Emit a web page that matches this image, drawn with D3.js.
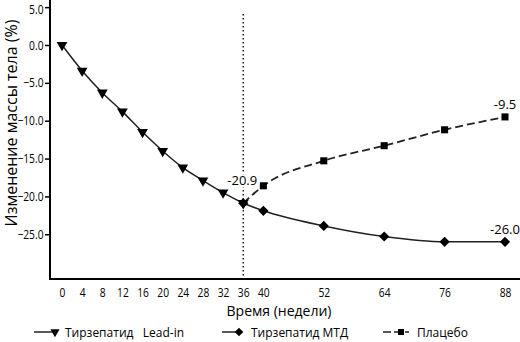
<!DOCTYPE html>
<html><head><meta charset="utf-8">
<script src="https://cdn.jsdelivr.net/npm/d3@7"></script>
<style>body{margin:0;background:#fff}svg{display:block}text{font-family:"Open Sans",sans-serif;fill:#000}</style>
</head><body><svg id="c" width="520" height="342"></svg>
<script>
const leadWeeks=[0,4,8,12,16,20,24,28,32,36];
const leadValues=[0,-3.4,-6.3,-8.8,-11.5,-14.0,-16.2,-17.9,-19.5,-20.9];
const mtdWeeks=[36,40,52,64,76,88];
const mtdValues=[-20.9,-21.9,-23.9,-25.3,-26.0,-26.0];
const placeboWeeks=[36,40,52,64,76,88];
const placeboValues=[-20.9,-18.6,-15.3,-13.3,-11.2,-9.5];
const xTicks=[0,4,8,12,16,20,24,28,32,36,40,52,64,76,88];
const yTicks=[5,0,-5,-10,-15,-20,-25];
const labels=[{w:36,v:-20.9,t:"-20.9"},{w:88,v:-9.5,t:"-9.5"},{w:88,v:-26.0,t:"-26.0"}];

const svg=d3.select("#c");
const x=d3.scaleLinear().domain([0,88]).range([62,505]);
const y=d3.scaleLinear().domain([0,-20]).range([45,196.4]);
const sx=0.82;

// axes
const yAx=svg.append("g").attr("transform","translate(50,0)")
 .call(d3.axisLeft(y).tickValues(yTicks).tickFormat(d3.format(".1f")).tickSize(5).tickPadding(1));
yAx.select(".domain").attr("d","M0,0V279.5").attr("stroke-width",2);
yAx.selectAll(".tick line").attr("stroke-width",1.5);
yAx.selectAll(".tick text").attr("x",-6.5/sx).attr("transform",`scale(${sx},1)`)
 .attr("dy",d=>d===5?"0.48em":"0.32em");
const xAx=svg.append("g").attr("transform","translate(0,279)")
 .call(d3.axisBottom(x).tickValues(xTicks).tickSize(0).tickPadding(9));
xAx.select(".domain").attr("d","M49,0H520").attr("stroke-width",2);
xAx.selectAll(".tick text").attr("transform",`scale(${sx},1)`).attr("x",0);
svg.selectAll(".tick text").style("font-size","12.5px").style("font-family","'Open Sans',sans-serif");

// dotted line at 36
svg.append("line").attr("x1",x(36)).attr("x2",x(36)).attr("y1",14).attr("y2",279)
 .attr("stroke","#000").attr("stroke-width",1.3).attr("stroke-dasharray","1.5,2.5");

const line=d3.line().curve(d3.curveMonotoneX).x(d=>x(d[0])).y(d=>y(d[1]));
const lead=leadWeeks.map((w,i)=>[w,leadValues[i]]);
const mtd=mtdWeeks.map((w,i)=>[w,mtdValues[i]]);
const plac=placeboWeeks.map((w,i)=>[w,placeboValues[i]]);
svg.append("path").attr("d",line(lead)).attr("fill","none").attr("stroke","#222").attr("stroke-width",1.5);
svg.append("path").attr("d",line(mtd)).attr("fill","none").attr("stroke","#222").attr("stroke-width",1.5);
svg.append("path").attr("d",line(plac)).attr("fill","none").attr("stroke","#222").attr("stroke-width",1.8).attr("stroke-dasharray","8,4");

const tri=d3.symbol().type(d3.symbolTriangle).size(50);
const dia=d3.symbol().type(d3.symbolSquare).size(52);
const sq=d3.symbol().type(d3.symbolSquare).size(50);
svg.selectAll(".pl").data(plac.slice(1)).join("path").attr("d",sq).attr("transform",d=>`translate(${x(d[0])},${y(d[1])})`);
svg.selectAll(".ld").data(lead).join("path").attr("d",tri).attr("transform",d=>`translate(${x(d[0])},${y(d[1])}) rotate(180)`);
svg.selectAll(".md").data(mtd).join("path").attr("d",dia).attr("transform",d=>`translate(${x(d[0])},${y(d[1])}) rotate(45)`);

// value labels
const vl=svg.selectAll(".vl").data(labels).join("g")
 .attr("transform",(d,i)=>`translate(${i===0?x(d.w)-1:x(d.w)},${y(d.v)-(i===0?18:8)})`);
vl.filter((d,i)=>i===0).append("rect").attr("x",-16).attr("y",-11).attr("width",32).attr("height",13).attr("fill","#fff");
vl.append("text").attr("text-anchor","middle").style("font-size","13px").text(d=>d.t);

// titles
svg.append("text").attr("transform","translate(16.5,123) rotate(-90)").attr("text-anchor","middle")
 .style("font-size","16px").text("Изменение массы тела (%)");
svg.append("text").attr("x",279).attr("y",316).attr("text-anchor","middle")
 .style("font-size","14px").text("Время (недели)");

// legend
const lg=svg.append("g").attr("transform","translate(0,332)");
const leg=[{x1:34,x2:55,sym:tri,rot:180,dash:null,t:"Тирзепатид\u00a0\u00a0\u00a0Lead-in",tx:65},
 {x1:222,x2:239,sym:dia,rot:45,dash:null,t:"Тирзепатид МТД",tx:251},
 {x1:383,x2:409,sym:sq,rot:0,dash:"8,3",t:"Плацебо",tx:417,sx:401}];
leg.forEach(d=>{
 lg.append("line").attr("x1",d.x1).attr("x2",d.x2).attr("y1",0).attr("y2",0).attr("stroke","#222").attr("stroke-width",1.5).attr("stroke-dasharray",d.dash);
 lg.append("path").attr("d",d.sym).attr("transform",`translate(${d.sx||d.x2},0) rotate(${d.rot}) scale(0.85)`);
 lg.append("text").attr("x",d.tx).attr("y",4.5).style("font-size","12px").text(d.t);
});
</script></body></html>
